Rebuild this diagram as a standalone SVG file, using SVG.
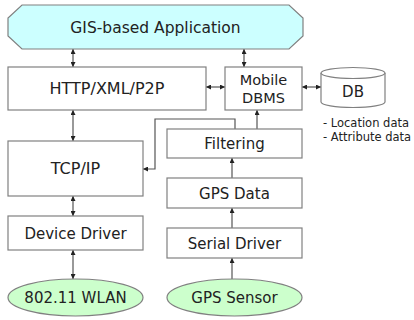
<svg xmlns="http://www.w3.org/2000/svg" width="414" height="320" viewBox="0 0 414 320">
<style>
.box{fill:#fff;stroke:#808080;stroke-width:1.2}
.t{font-family:"DejaVu Sans",Verdana,sans-serif;font-size:15px;fill:#222;text-anchor:middle}
.s{font-family:"DejaVu Sans",Verdana,sans-serif;font-size:11.5px;fill:#222}
.c{fill:none;stroke:#555;stroke-width:1.2}
</style>
<defs>
<marker id="ah" viewBox="0 0 10 10" refX="10" refY="5" markerWidth="5" markerHeight="5" orient="auto-start-reverse" markerUnits="userSpaceOnUse">
<path d="M0,0 L10,5 L0,10 Z" fill="#222"/>
</marker>
</defs>
<rect width="414" height="320" fill="#fff"/>
<g id="connectors">
<line class="c" x1="73" y1="49" x2="73" y2="67" marker-start="url(#ah)" marker-end="url(#ah)"/>
<line class="c" x1="244" y1="49" x2="244" y2="67" marker-start="url(#ah)" marker-end="url(#ah)"/>
<line class="c" x1="206" y1="87" x2="225" y2="87" marker-start="url(#ah)" marker-end="url(#ah)"/>
<line class="c" x1="302" y1="87" x2="321" y2="87" marker-start="url(#ah)" marker-end="url(#ah)"/>
<line class="c" x1="73" y1="110" x2="73" y2="141" marker-start="url(#ah)" marker-end="url(#ah)"/>
<line class="c" x1="257" y1="129" x2="257" y2="110" marker-end="url(#ah)"/>
<polyline class="c" points="235,129 235,119 155,119 155,169 143,169" marker-end="url(#ah)"/>
<line class="c" x1="73" y1="196" x2="73" y2="216" marker-start="url(#ah)" marker-end="url(#ah)"/>
<line class="c" x1="232" y1="178" x2="232" y2="158" marker-end="url(#ah)"/>
<line class="c" x1="232" y1="228" x2="232" y2="208" marker-end="url(#ah)"/>
<line class="c" x1="232" y1="279" x2="232" y2="258" marker-end="url(#ah)"/>
<line class="c" x1="73" y1="250" x2="73" y2="279" marker-start="url(#ah)" marker-end="url(#ah)"/>
</g>
<g id="gis">
<polygon points="22,5 289,5 303,18 303,36 289,49 22,49 8,36 8,18" fill="#ccffff" stroke="#808080" stroke-width="1.2"/>
<text class="t" x="155.5" y="33" style="font-size:15.5px">GIS-based Application</text>
</g>
<g id="http">
<rect class="box" x="8" y="67" width="198" height="43"/>
<text class="t" x="107" y="94" style="font-size:16px">HTTP/XML/P2P</text>
</g>
<g id="mdbms">
<rect class="box" x="225" y="67" width="77" height="43"/>
<text class="t" x="263.5" y="85" style="font-size:14.5px">Mobile</text>
<text class="t" x="263.5" y="103" style="font-size:14.5px">DBMS</text>
</g>
<g id="db">
<path d="M321,73 L321,102 A32,5.5 0 0 0 385,102 L385,73" fill="#fff" stroke="#808080" stroke-width="1.2"/>
<ellipse cx="353" cy="73" rx="32" ry="5.5" fill="#fff" stroke="#808080" stroke-width="1.2"/>
<text class="t" x="353" y="97" style="font-size:15px">DB</text>
</g>
<g id="legend">
<text class="s" x="323" y="127">- Location data</text>
<text class="s" x="323" y="141">- Attribute data</text>
</g>
<g id="filtering">
<rect class="box" x="167" y="129" width="135" height="29"/>
<text class="t" x="234.5" y="149">Filtering</text>
</g>
<g id="tcpip">
<rect class="box" x="8" y="141" width="135" height="55"/>
<text class="t" x="75.5" y="174" style="font-size:16px">TCP/IP</text>
</g>
<g id="gpsdata">
<rect class="box" x="167" y="178" width="135" height="30"/>
<text class="t" x="234.5" y="198.5">GPS Data</text>
</g>
<g id="devicedriver">
<rect class="box" x="8" y="216" width="135" height="34"/>
<text class="t" x="75.5" y="238.5">Device Driver</text>
</g>
<g id="serialdriver">
<rect class="box" x="167" y="228" width="135" height="30"/>
<text class="t" x="234.5" y="248.5">Serial Driver</text>
</g>
<g id="wlan">
<ellipse cx="75.5" cy="297.5" rx="67.5" ry="18.5" fill="#ccffcc" stroke="#808080" stroke-width="1.2"/>
<text class="t" x="75.5" y="303">802.11 WLAN</text>
</g>
<g id="gpssensor">
<ellipse cx="234.5" cy="297.5" rx="67.5" ry="18.5" fill="#ccffcc" stroke="#808080" stroke-width="1.2"/>
<text class="t" x="234.5" y="303">GPS Sensor</text>
</g>
</svg>
